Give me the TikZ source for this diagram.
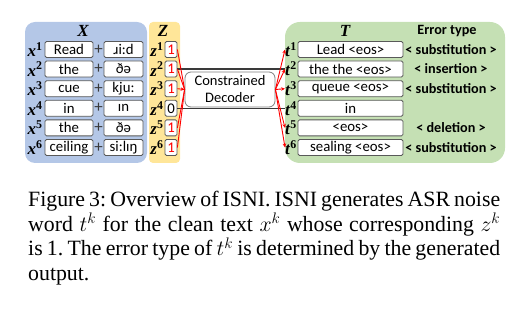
\RequirePackage{fix-cm}
\documentclass[tikz,border=0pt]{standalone}
\usepackage{fontspec}
\setmainfont{Liberation Serif}
\newfontfamily\cfont{Carlito}
\usetikzlibrary{arrows.meta}
\definecolor{pblue}{HTML}{B4C7E7}
\definecolor{pyellow}{HTML}{FFE699}
\definecolor{pgreen}{HTML}{C5E0B4}
\definecolor{bord}{HTML}{595959}
\definecolor{decb}{HTML}{7F7F7F}
\definecolor{tube}{HTML}{3A3A3A}
\definecolor{ared}{HTML}{FF0000}
\newcommand\blab[2]{\textbf{\textit{#1}}\textsuperscript{\textbf{#2}}}
\frenchspacing
\begin{document}
\begin{tikzpicture}[x=1pt,y=-1pt,
  cell/.style={draw=bord, line width=0.8pt, fill=white, rounded corners=1.5pt,
    minimum height=16pt, inner sep=0pt, font=\cfont\fontsize{14.8}{15}\selectfont},
  lbl/.style={inner sep=0pt, font=\fontsize{17}{17}\selectfont},
  ttl/.style={inner sep=0pt, font=\fontsize{17}{17}\selectfont\bfseries\itshape},
  err/.style={inner sep=0pt, font=\cfont\fontsize{14.2}{15}\selectfont\bfseries},
  capline/.style={anchor=base west, inner sep=0pt, font=\fontsize{21.8}{24}\selectfont},
  redline/.style={draw=ared, line width=0.9pt},
  redarrow/.style={draw=ared, line width=0.9pt, -{Stealth[length=4pt,width=3.5pt]}},
  tubeline/.style={draw=tube, line width=1.3pt}]
\useasboundingbox (0,0) rectangle (530,320);
% panels
\fill[pblue, rounded corners=10pt] (25,22) rectangle (147,163);
\fill[pyellow, rounded corners=4pt] (149,22) rectangle (180,163);
\fill[pgreen, rounded corners=15pt] (285,22) rectangle (505,163);
% titles
\node[ttl] (tX) at (83,31) {X};
\node[ttl] (tZ) at (163,31) {Z};
\node[ttl] (tT) at (345,31) {T};
\node[err] (tE) at (447,31) {Error type};
% rows
\foreach \i/\y/\w/\p/\zv/\zc/\t/\e in {
  1/49.5/Read/ɹi:d/1/ared/Lead <eos>/< substitution >,
  2/69/the/ðə/1/ared/the the <eos>/< insertion >,
  3/88.7/cue/kju:/1/ared/queue <eos>/< substitution >,
  4/108.3/in/ɪn/0/black/in/,
  5/127.9/the/ðə/1/ared/<eos>/< deletion >,
  6/147.5/ceiling/si:lɪŋ/1/ared/sealing <eos>/< substitution >}{
  \node[lbl] (lx\i) at (35,\y) {\blab{x}{\i}};
  \node[cell, minimum width=48pt] (w\i) at (69,\y) {\w};
  \node[inner sep=0pt, font=\cfont\fontsize{17}{17}\selectfont, text=tube] (plus\i) at (98.5,\y) {+};
  \node[cell, minimum width=39pt] (p\i) at (123.5,\y) {\p};
  \node[lbl] (lz\i) at (157,\y) {\blab{z}{\i}};
  \node[cell, minimum width=12pt, text=\zc] (z\i) at (171,\y) {\zv};
  \node[lbl] (lt\i) at (291,\y) {\blab{t}{\i}};
  \node[cell, minimum width=105pt] (t\i) at (350.5,\y) {\t};
  \node[err] (e\i) at (451,\y) {\e};
}
% decoder
\node[draw=decb, line width=0.8pt, fill=white, rounded corners=6pt,
  minimum width=90pt, minimum height=35pt, inner sep=0pt, align=center,
  font=\cfont\fontsize{14.5}{17}\selectfont] (dec) at (230,89.5) {Constrained\\Decoder};
% tube lines
\draw[tubeline] (z2.east) -- (lt2.west);
\draw[tubeline] (z4.east) -- (lt4.west);
% red connectors
\foreach \i in {1,2,5,6}{\draw[redline] (z\i.east) -- (dec.west);}
\draw[redarrow] (z3.east) -- (dec.west);
\foreach \i in {1,2,3,5,6}{\draw[redarrow] (dec.east) -- (lt\i.west);}
% caption
\node[capline] (cap1) at (28,207) {\makebox[472pt][s]{Figure 3: Overview of ISNI. ISNI generates ASR noise}};
\node[capline] (cap2) at (28,231.5) {\makebox[472pt][s]{word $t^k$ for the clean text $x^k$ whose corresponding $z^k$}};
\node[capline] (cap3) at (28,256) {\makebox[472pt][s]{is 1. The error type of $t^k$ is determined by the generated}};
\node[capline] (cap4) at (28,280.5) {output.};
\end{tikzpicture}
\end{document}
